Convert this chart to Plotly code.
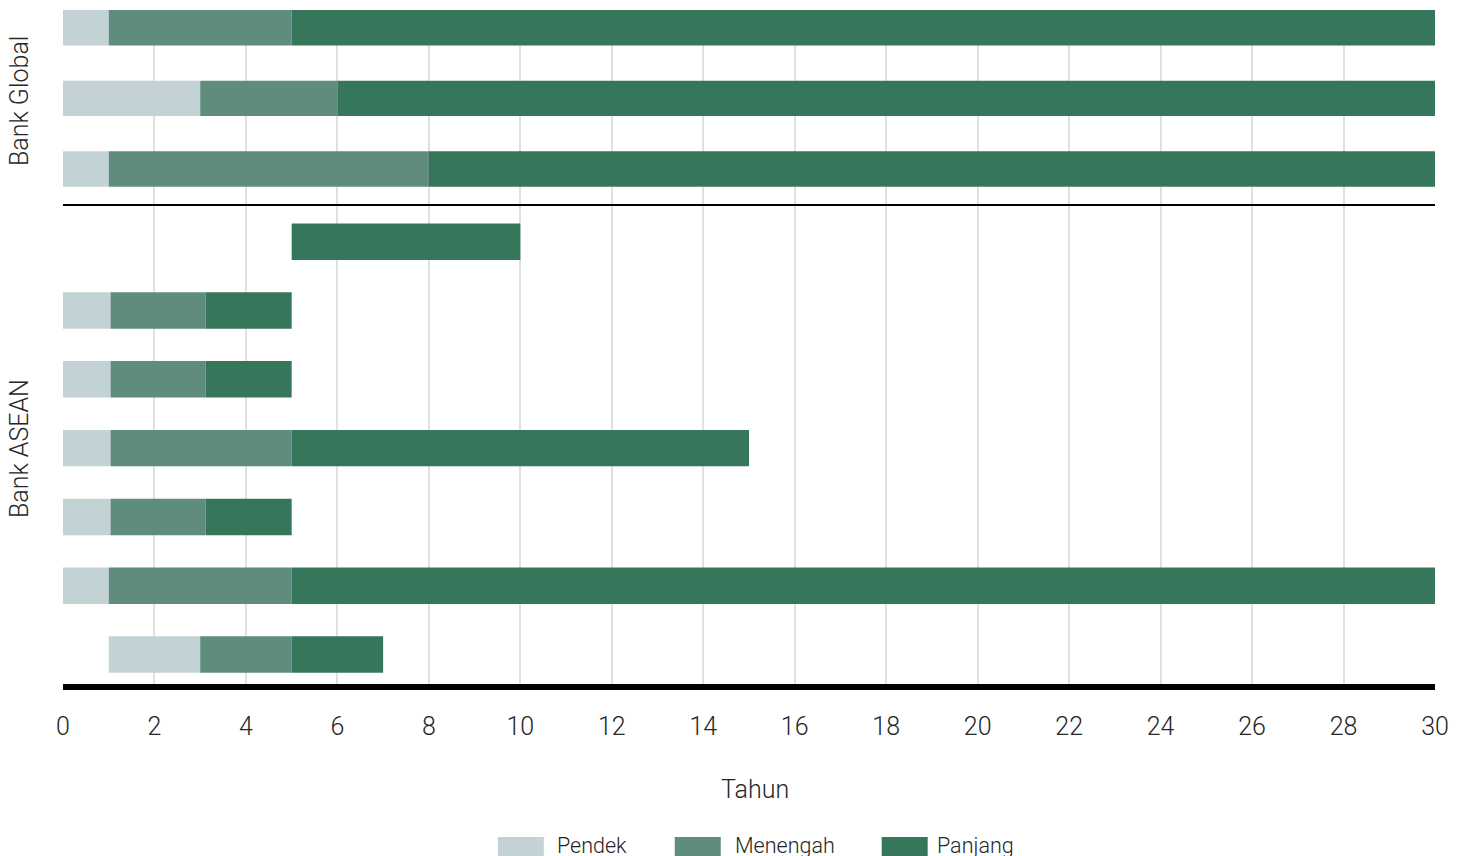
import plotly.graph_objects as go

# ---- data (years) ----
series_names = ["Pendek", "Menengah", "Panjang"]
series_colors = ["#c3d2d5", "#5f8c7e", "#36775b"]

global_rows = ["Global 1", "Global 2", "Global 3"]
global_start = [0, 0, 0]
global_pendek = [1, 3, 1]
global_menengah = [4, 3, 7]
global_panjang = [25, 24, 22]

asean_rows = ["ASEAN 1", "ASEAN 2", "ASEAN 3", "ASEAN 4", "ASEAN 5", "ASEAN 6", "ASEAN 7"]
asean_start = [5, 0, 0, 0, 0, 0, 1]
asean_pendek = [0, 1.04, 1.04, 1.04, 1.04, 1, 2]
asean_menengah = [0, 2.08, 2.08, 3.96, 2.08, 4, 2]
asean_panjang = [5, 1.88, 1.88, 10, 1.88, 25, 2]

x_ticks = list(range(0, 31, 2))
x_title = "Tahun"
group_titles = ["Bank Global", "Bank ASEAN"]

# ---- geometry helpers (pixel -> paper) ----
W, H = 1467, 856
ML, MR, MT, MB = 63, 31.5, 10, 172
PW, PH = W - ML - MR, H - MT - MB


def px_x(p):
    return (p - ML) / PW


def px_y(p):
    return (H - MB - p) / PH


split = px_y(204)
FONT = "Roboto"
TXT = "#262626"

fig = go.Figure()


def add_group(rows, start, segs, xa, ya, width):
    base = list(start)
    for name, color, seg in zip(series_names, series_colors, segs):
        fig.add_trace(go.Bar(
            y=rows, x=seg, base=base, orientation="h", name=name,
            marker=dict(color=color, line=dict(width=0)), width=width,
            xaxis=xa, yaxis=ya, showlegend=False,
            hovertemplate=name + ": %{base} – %{x}<extra></extra>",
        ))
        base = [b + s for b, s in zip(base, seg)]


add_group(global_rows, global_start,
          [global_pendek, global_menengah, global_panjang], "x2", "y2", 0.5)
add_group(asean_rows, asean_start,
          [asean_pendek, asean_menengah, asean_panjang], "x", "y", 0.53)

grid = dict(showgrid=True, gridcolor="#e0e0e0", gridwidth=2, zeroline=False,
            range=[0, 30], tickvals=x_ticks, fixedrange=True)

fig.update_layout(
    width=W, height=H, autosize=False,
    margin=dict(l=ML, r=MR, t=MT, b=MB, pad=0),
    paper_bgcolor="white", plot_bgcolor="white",
    barmode="overlay", showlegend=False,
    font=dict(family=FONT, color=TXT, size=25, weight=300),
    xaxis=dict(**grid, anchor="y", showline=True, linecolor="black", linewidth=6,
               ticks="outside", ticklen=15, tickcolor="rgba(0,0,0,0)",
               tickfont=dict(family=FONT, size=25, color=TXT, weight=300)),
    xaxis2=dict(**grid, anchor="y2", matches="x", showline=True, linecolor="black",
                linewidth=2, showticklabels=False, ticks=""),
    yaxis=dict(domain=[0, split], categoryorder="array", categoryarray=asean_rows,
               range=[6.428, -0.548], showgrid=False, zeroline=False,
               showticklabels=False, showline=False, ticks=""),
    yaxis2=dict(domain=[split, 1], categoryorder="array", categoryarray=global_rows,
                range=[2.496, -0.251], showgrid=False, zeroline=False,
                showticklabels=False, showline=False, ticks=""),
)

# group titles on the left
for title, yc in zip(group_titles, [101, 449]):
    fig.add_annotation(text=title, xref="paper", yref="paper",
                       x=px_x(19), y=px_y(yc), xanchor="center", yanchor="middle",
                       textangle=-90, showarrow=False,
                       font=dict(family=FONT, size=25, color=TXT, weight=300))

# axis title
fig.add_annotation(text=x_title, xref="paper", yref="paper",
                   x=px_x(755), y=px_y(789), xanchor="center", yanchor="middle",
                   showarrow=False, font=dict(family=FONT, size=25, color=TXT, weight=300))

# legend: wide swatches with labels
swatch_left = [498, 675, 882]
label_left = [555, 733, 935]
for name, color, left, tleft in zip(series_names, series_colors, swatch_left, label_left):
    fig.add_shape(type="rect", xref="paper", yref="paper",
                  x0=px_x(left), x1=px_x(left + 46), y0=px_y(837), y1=px_y(858),
                  fillcolor=color, line=dict(width=0), layer="above")
    fig.add_annotation(text=name, xref="paper", yref="paper",
                       x=px_x(tleft), y=px_y(845), xanchor="left", yanchor="middle",
                       showarrow=False,
                       font=dict(family=FONT, size=21.5, color=TXT, weight=300))

fig.write_html("out.html")
